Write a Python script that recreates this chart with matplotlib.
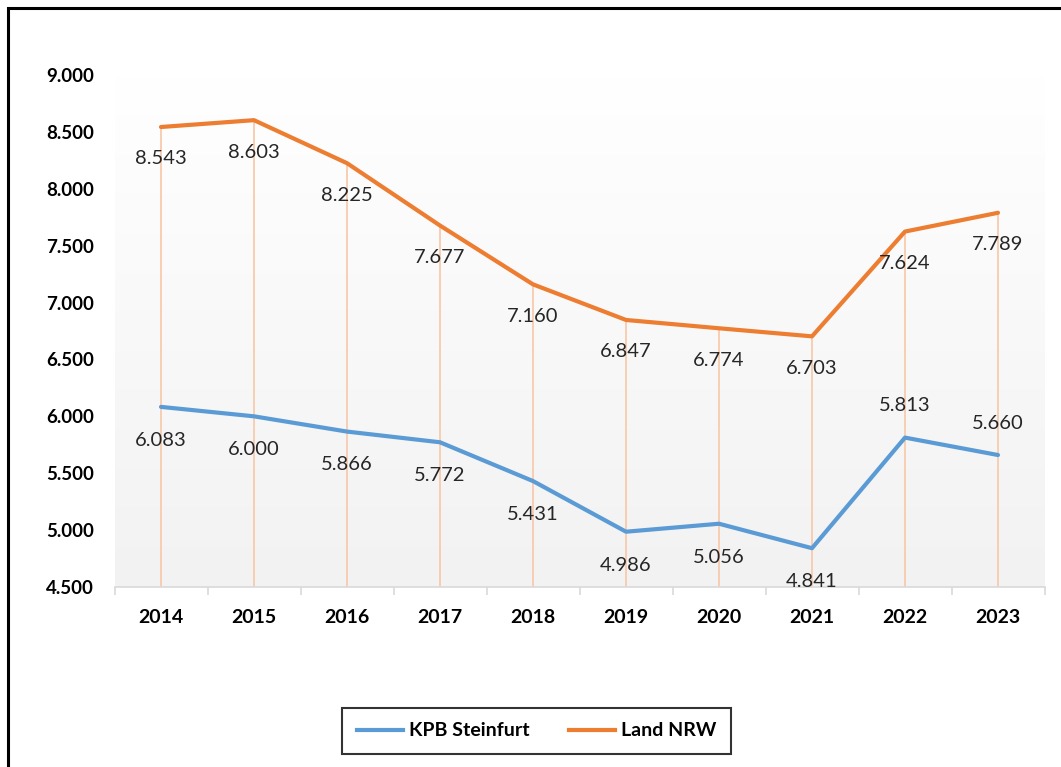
import matplotlib.pyplot as plt
import numpy as np
from matplotlib.patches import Rectangle
from matplotlib.lines import Line2D

years = ["2014", "2015", "2016", "2017", "2018", "2019", "2020", "2021", "2022", "2023"]
kpb_steinfurt = [6.083, 6.000, 5.866, 5.772, 5.431, 4.986, 5.056, 4.841, 5.813, 5.660]
land_nrw = [8.543, 8.603, 8.225, 7.677, 7.160, 6.847, 6.774, 6.703, 7.624, 7.789]
y_ticks = [4.5, 5.0, 5.5, 6.0, 6.5, 7.0, 7.5, 8.0, 8.5, 9.0]

blue = "#5B9BD5"
orange = "#ED7D31"

plt.rcParams["font.family"] = ["Lato", "DejaVu Sans"]

W, H = 1061, 767
fig = plt.figure(figsize=(W / 100, H / 100), dpi=100)
ax = fig.add_axes([114.5 / W, 180 / H, 930 / W, 512 / H])

x = np.arange(len(years))

# gradient background of the plot area
grad = np.linspace(0, 1, 256).reshape(-1, 1)
ax.imshow(grad, cmap=plt.matplotlib.colors.LinearSegmentedColormap.from_list(
    "bg", ["#F2F2F2", "#FFFFFF"]), extent=[-0.5, len(years) - 0.5, 4.5, 9.0],
    aspect="auto", origin="lower", zorder=0)

# drop lines
ax.vlines(x, 4.5, land_nrw, color="#F8CBAD", lw=1.3, zorder=1)

ax.plot(x, kpb_steinfurt, color=blue, lw=3, solid_capstyle="round", zorder=3)
ax.plot(x, land_nrw, color=orange, lw=3, solid_capstyle="round", zorder=3)

fmt = lambda v: f"{v:.3f}"
for i, v in enumerate(land_nrw):
    ax.annotate(fmt(v), (x[i], v), xytext=(0, -23), textcoords="offset points",
                ha="center", va="center", fontsize=14.5, color="#262626", zorder=4)
for i, v in enumerate(kpb_steinfurt):
    off = 23 if i >= 8 else -24
    ax.annotate(fmt(v), (x[i], v), xytext=(0, off), textcoords="offset points",
                ha="center", va="center", fontsize=14.5, color="#262626", zorder=4,
                annotation_clip=False)

ax.set_xlim(-0.5, len(years) - 0.5)
ax.set_ylim(4.5, 9.0)
ax.set_xticks(x)
ax.set_xticklabels(years, fontsize=14, fontweight="bold")
ax.set_xticks(np.arange(-0.5, len(years)), minor=True)
ax.set_yticks(y_ticks)
ax.set_yticklabels([f"{v:.3f}" for v in y_ticks], fontsize=13.5, fontweight="bold")
ax.tick_params(axis="x", which="major", length=0, pad=16)
ax.tick_params(axis="x", which="minor", length=6, color="#D9D9D9", width=1.2)
ax.tick_params(axis="y", length=0, pad=15)
for s in ["top", "right", "left"]:
    ax.spines[s].set_visible(False)
ax.spines["bottom"].set_color("#D9D9D9")
ax.spines["bottom"].set_linewidth(1.2)
ax.spines["bottom"].set_zorder(2)

handles = [Line2D([], [], color=blue, lw=3), Line2D([], [], color=orange, lw=3)]
leg = fig.legend(handles, ["KPB Steinfurt", "Land NRW"], loc="center",
                 bbox_to_anchor=(536.5 / W, 1 - 731 / H), ncol=2, frameon=True,
                 fancybox=False, edgecolor="black",
                 prop={"weight": "bold", "size": 14}, handlelength=2.4,
                 handletextpad=0.3, columnspacing=2.0, borderpad=0.75,
                 borderaxespad=0)
leg.get_frame().set_linewidth(1.5)

# outer chart frame
fig.patches.append(Rectangle((8 / W, -0.05), 1.1, 1 - 8 / H + 0.05,
                             transform=fig.transFigure, fill=False,
                             edgecolor="black", lw=2.2))

fig.savefig("out.png", dpi=100)
